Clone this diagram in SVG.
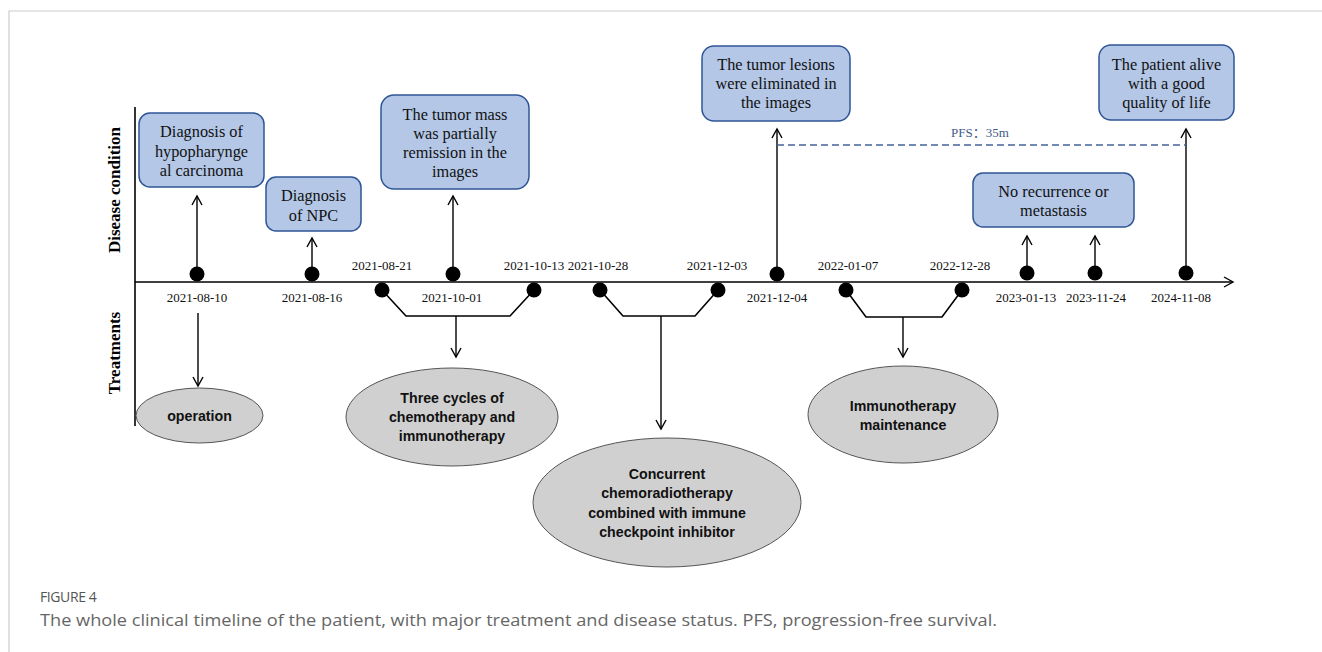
<svg xmlns="http://www.w3.org/2000/svg" width="1322" height="652" viewBox="0 0 1322 652">
<defs>
<marker id="open" viewBox="0 0 12 12" refX="10" refY="6" markerWidth="12" markerHeight="12" markerUnits="userSpaceOnUse" orient="auto">
<path d="M1,1 L10,6 L1,11" fill="none" stroke="#000" stroke-width="1.4"/>
</marker>
<style>
.box{fill:#B4C7E7;stroke:#2F5597;stroke-width:1.5}
.bt{font-family:"Liberation Serif","Times New Roman",serif;font-size:16.3px;fill:#111;text-anchor:middle}
.ell{fill:#D0D0D0;stroke:#555;stroke-width:1}
.et{font-family:"Liberation Sans",Arial,sans-serif;font-weight:bold;font-size:14.2px;fill:#111;text-anchor:middle}
.dt{font-family:"Liberation Serif","Times New Roman",serif;font-size:13px;fill:#111;text-anchor:middle}
.ln{stroke:#000;stroke-width:1.6;fill:none}
.ar{stroke:#000;stroke-width:1.4;fill:none;marker-end:url(#open)}
.dot{fill:#000}
.ax{font-family:"Liberation Serif","Times New Roman",serif;font-weight:bold;font-size:17px;fill:#000;text-anchor:middle}
</style>
</defs>
<rect width="1322" height="652" fill="#fff"/>
<path d="M9,652 V11 H1322" fill="none" stroke="#ccc" stroke-width="1.2"/>

<g id="axes">
<line x1="135" y1="107" x2="135" y2="426" class="ln"/>
<line x1="135" y1="282" x2="1233" y2="282" class="ar" style="stroke-width:1.6"/>
<text class="ax" transform="translate(120,190) rotate(-90)">Disease condition</text>
<text class="ax" transform="translate(120,353) rotate(-90)">Treatments</text>
</g>

<g id="connectors">
<line x1="197" y1="268" x2="197" y2="196" class="ar"/>
<line x1="312" y1="268" x2="312" y2="238" class="ar"/>
<line x1="453" y1="268" x2="453" y2="196" class="ar"/>
<line x1="777" y1="268" x2="777" y2="129" class="ar"/>
<line x1="1027" y1="267" x2="1027" y2="236" class="ar"/>
<line x1="1095" y1="267" x2="1095" y2="236" class="ar"/>
<line x1="1186" y1="267" x2="1186" y2="129" class="ar"/>
<line x1="777" y1="145" x2="1186" y2="145" stroke="#44639A" stroke-width="1.5" stroke-dasharray="7,4"/>
<text x="980" y="137" font-family="Liberation Serif,'Noto Sans CJK SC',serif" font-size="13" fill="#3F5A8A" text-anchor="middle">PFS：35m</text>
<polyline points="382,290 406,316 510,316 534,290" class="ln"/>
<polyline points="600,290 623,316 695,316 718,290" class="ln"/>
<polyline points="846,290 866,317 942,317 962,290" class="ln"/>
<line x1="198" y1="313" x2="198" y2="386" class="ar"/>
<line x1="456" y1="316" x2="456" y2="357" class="ar"/>
<line x1="661" y1="316" x2="661" y2="429" class="ar"/>
<line x1="903" y1="317" x2="903" y2="357" class="ar"/>
</g>

<g id="dates">
<circle cx="197" cy="274" r="7.5" class="dot"/><text x="197" y="302" class="dt">2021-08-10</text>
<circle cx="312" cy="274" r="7.5" class="dot"/><text x="312" y="302" class="dt">2021-08-16</text>
<circle cx="382" cy="290" r="7.5" class="dot"/><text x="382" y="270" class="dt">2021-08-21</text>
<circle cx="453" cy="274" r="7.5" class="dot"/><text x="452" y="302" class="dt">2021-10-01</text>
<circle cx="534" cy="290" r="7.5" class="dot"/><text x="534" y="270" class="dt">2021-10-13</text>
<circle cx="600" cy="290" r="7.5" class="dot"/><text x="598" y="270" class="dt">2021-10-28</text>
<circle cx="718" cy="290" r="7.5" class="dot"/><text x="717" y="270" class="dt">2021-12-03</text>
<circle cx="777" cy="274" r="7.5" class="dot"/><text x="777" y="302" class="dt">2021-12-04</text>
<circle cx="846" cy="290" r="7.5" class="dot"/><text x="848" y="270" class="dt">2022-01-07</text>
<circle cx="962" cy="290" r="7.5" class="dot"/><text x="960" y="270" class="dt">2022-12-28</text>
<circle cx="1027" cy="273" r="7.5" class="dot"/><text x="1026" y="302" class="dt">2023-01-13</text>
<circle cx="1095" cy="273" r="7.5" class="dot"/><text x="1096" y="302" class="dt">2023-11-24</text>
<circle cx="1186" cy="273" r="7.5" class="dot"/><text x="1181" y="302" class="dt">2024-11-08</text>
</g>

<g id="box-hypopharyngeal">
<rect x="139" y="113" width="125" height="74" rx="11" class="box"/>
<text class="bt"><tspan x="201.5" y="137">Diagnosis of</tspan><tspan x="201.5" y="157">hypopharynge</tspan><tspan x="201.5" y="176">al carcinoma</tspan></text>
</g>
<g id="box-npc">
<rect x="266" y="177" width="95" height="54" rx="10" class="box"/>
<text class="bt"><tspan x="313.5" y="201">Diagnosis</tspan><tspan x="313.5" y="221">of NPC</tspan></text>
</g>
<g id="box-partial">
<rect x="381" y="95" width="148" height="94" rx="13" class="box"/>
<text class="bt"><tspan x="455" y="120">The tumor mass</tspan><tspan x="455" y="139">was partially</tspan><tspan x="455" y="158">remission in the</tspan><tspan x="455" y="177">images</tspan></text>
</g>
<g id="box-eliminated">
<rect x="702" y="46" width="148" height="75" rx="12" class="box"/>
<text class="bt"><tspan x="776" y="70">The tumor lesions</tspan><tspan x="776" y="89">were eliminated in</tspan><tspan x="776" y="108">the images</tspan></text>
</g>
<g id="box-norecurrence">
<rect x="973" y="173" width="161" height="54" rx="10" class="box"/>
<text class="bt"><tspan x="1053.5" y="197">No recurrence or</tspan><tspan x="1053.5" y="216">metastasis</tspan></text>
</g>
<g id="box-alive">
<rect x="1099" y="45" width="135" height="75" rx="12" class="box"/>
<text class="bt"><tspan x="1166.5" y="70">The patient alive</tspan><tspan x="1166.5" y="89">with a good</tspan><tspan x="1166.5" y="108">quality of life</tspan></text>
</g>

<g id="t-operation">
<ellipse cx="199.5" cy="415.5" rx="63.5" ry="27.5" class="ell"/>
<text x="199.5" y="421" class="et">operation</text>
</g>
<g id="t-three">
<ellipse cx="452" cy="417" rx="106" ry="49" class="ell"/>
<text class="et"><tspan x="452" y="403">Three cycles of</tspan><tspan x="452" y="422">chemotherapy and</tspan><tspan x="452" y="441">immunotherapy</tspan></text>
</g>
<g id="t-concurrent">
<ellipse cx="667" cy="502.5" rx="134" ry="64.5" class="ell"/>
<text class="et"><tspan x="667" y="479">Concurrent</tspan><tspan x="667" y="498">chemoradiotherapy</tspan><tspan x="667" y="518">combined with immune</tspan><tspan x="667" y="537">checkpoint inhibitor</tspan></text>
</g>
<g id="t-immuno">
<ellipse cx="903" cy="414.5" rx="95" ry="48.5" class="ell"/>
<text class="et"><tspan x="903" y="411">Immunotherapy</tspan><tspan x="903" y="430">maintenance</tspan></text>
</g>

<g id="caption">
<text x="40" y="602" font-family="'Open Sans','Liberation Sans',sans-serif" font-size="14" fill="#555" letter-spacing="-0.4">FIGURE 4</text>
<text x="40" y="626" font-family="'Open Sans','Liberation Sans',sans-serif" font-size="16" fill="#666" textLength="957" lengthAdjust="spacingAndGlyphs">The whole clinical timeline of the patient, with major treatment and disease status. PFS, progression-free survival.</text>
</g>
</svg>
